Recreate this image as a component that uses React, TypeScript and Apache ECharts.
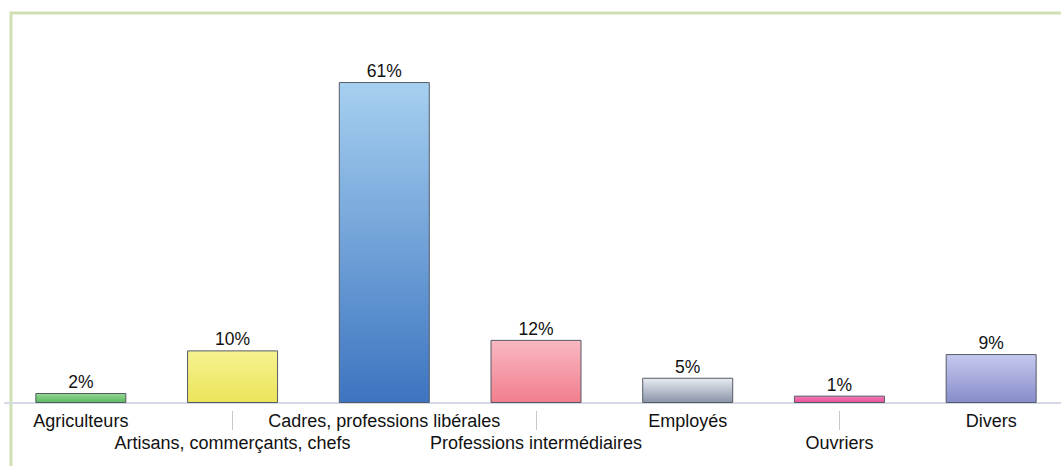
import React, { useEffect, useRef } from "react";
import * as echarts from "echarts";

const categories = [
  "Agriculteurs",
  "Artisans, commerçants, chefs",
  "Cadres, professions libérales",
  "Professions intermédiaires",
  "Employés",
  "Ouvriers",
  "Divers",
];
const values = [1.9, 10, 61, 12, 4.8, 1.4, 9.3];
const labels = ["2%", "10%", "61%", "12%", "5%", "1%", "9%"];
const gradients: [string, string][] = [
  ["#94d894", "#5bb85e"],
  ["#f6f290", "#ebe45a"],
  ["#a6d0f0", "#3d74c0"],
  ["#f9b8c2", "#f27e8e"],
  ["#e8ecf3", "#8a94a8"],
  ["#f578b4", "#e8509a"],
  ["#c6c9ee", "#878ccb"],
];

export default function App() {
  const ref = useRef<HTMLDivElement>(null);
  useEffect(() => {
    const chart = echarts.init(ref.current!, undefined, { renderer: "svg" });
    const font = "'Liberation Sans', Arial, sans-serif";
    chart.setOption({
      animation: false,
      backgroundColor: "#ffffff",
      graphic: [
        {
          type: "rect",
          shape: { x: 11, y: 13, width: 1100, height: 500 },
          style: { fill: "none", stroke: "#cfe1b3", lineWidth: 3 },
          z: -1,
        },
      ],
      grid: { left: 5, top: 34.7, width: 1062, height: 368.3 },
      xAxis: [
        {
          type: "category",
          data: categories,
          axisLine: { show: true, lineStyle: { color: "#d3dae6", width: 2 } },
          axisTick: { show: false },
          axisLabel: {
            interval: 0,
            margin: 7,
            color: "#111",
            fontSize: 18,
            fontFamily: font,
            lineHeight: 22,
            formatter: (v: string, i: number) => (i % 2 === 1 ? "\n" + v : v),
          },
        },
        {
          type: "category",
          data: categories,
          position: "bottom",
          offset: 8,
          axisLine: { show: false },
          axisTick: {
            show: true,
            alignWithLabel: true,
            length: 19,
            interval: (i: number) => i % 2 === 1,
            lineStyle: { color: "#c8c8c8", width: 1 },
          },
          axisLabel: { show: false },
        },
      ],
      yAxis: {
        type: "value",
        min: 0,
        max: 70,
        show: false,
        splitLine: { show: false },
      },
      series: [
        {
          type: "bar",
          barWidth: 91,
          data: values.map((v, i) => ({
            value: v,
            itemStyle: {
              color: new echarts.graphic.LinearGradient(0, 0, 0, 1, [
                { offset: 0, color: gradients[i][0] },
                { offset: 1, color: gradients[i][1] },
              ]),
              borderColor: "#555b66",
              borderWidth: 1,
            },
          })),
          label: {
            show: true,
            position: "top",
            distance: 2,
            formatter: (p: any) => labels[p.dataIndex],
            color: "#111",
            fontSize: 17.5,
            fontFamily: font,
          },
        },
      ],
    });
    return () => chart.dispose();
  }, []);
  return (
    <div
      style={{
        position: "fixed",
        left: 0,
        top: 0,
        width: 1061,
        height: 466,
        overflow: "hidden",
        background: "#fff",
      }}
    >
      <div ref={ref} style={{ width: 1070, height: 466 }} />
    </div>
  );
}
